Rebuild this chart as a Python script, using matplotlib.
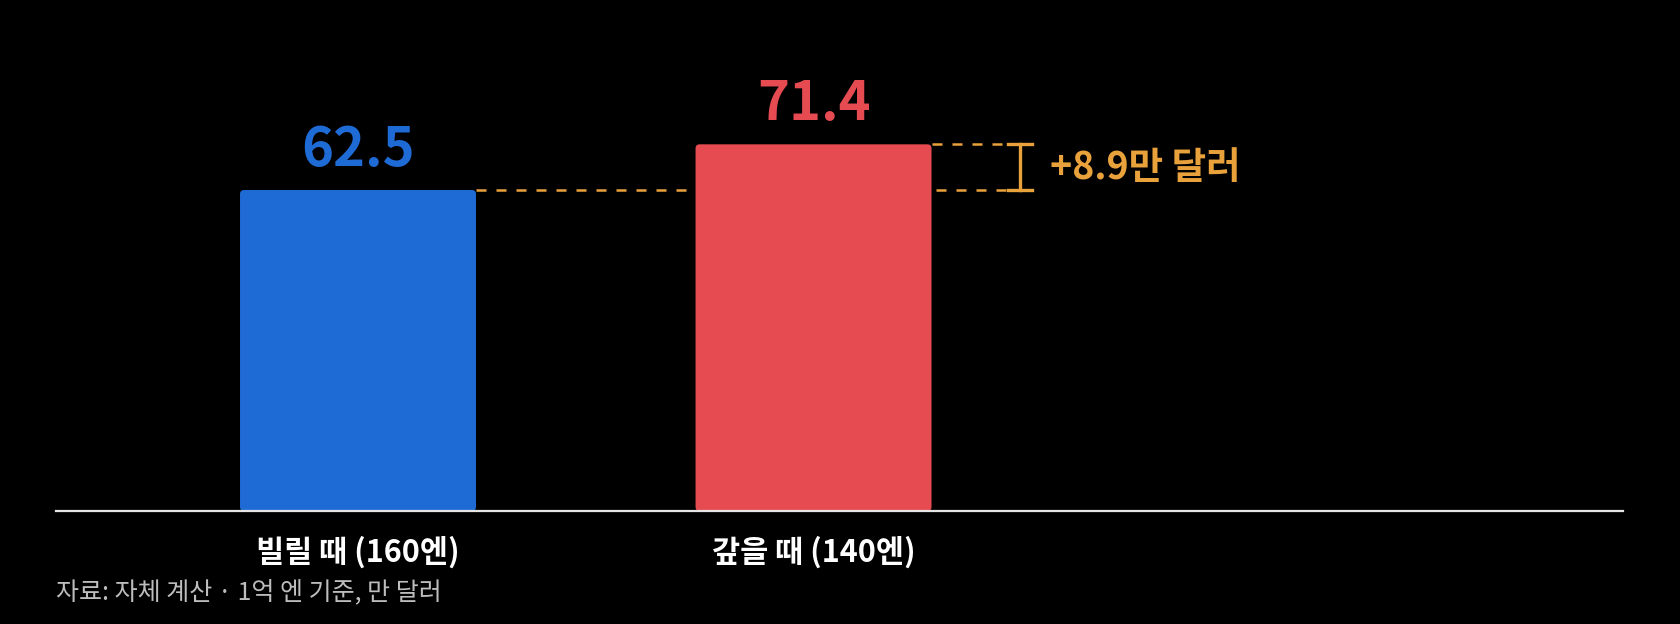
import matplotlib
matplotlib.use("Agg")
import matplotlib.pyplot as plt
from matplotlib.patches import FancyBboxPatch

plt.rcParams['font.family'] = ['Noto Sans CJK KR', 'DejaVu Sans']

# data
categories = ["빌릴 때 (160엔)", "갚을 때 (140엔)"]
values = [62.5, 71.4]
value_labels = ["62.5", "71.4"]
bar_colors = ["#1F6BD6", "#E54B50"]
diff_label = "+8.9만 달러"
source_note = "자료: 자체 계산 · 1억 엔 기준, 만 달러"

orange = "#E9A23B"

fig = plt.figure(figsize=(16.8, 6.24), dpi=100, facecolor="black")
# axes: baseline at 511 px from top, spanning x 56..1623 px
ax = fig.add_axes([56 / 1680, 113 / 624, (1623 - 56) / 1680, 511 / 624])
ax.set_facecolor("black")

x = [0, 1]
width = 0.518
bars = ax.bar(x, values, width=width, color=bar_colors, zorder=3)

ax.set_xlim(-0.663, 2.777)
ax.set_ylim(0, 99.5)

# rounded corners: swap each rectangle for a rounded box of same geometry
for b, c in zip(bars, bar_colors):
    b.set_visible(False)
    r = FancyBboxPatch((b.get_x(), b.get_y()), b.get_width(), b.get_height(),
                       boxstyle="round,pad=0,rounding_size=0.009",
                       mutation_aspect=88, facecolor=c, edgecolor="none",
                       zorder=3)
    ax.add_patch(r)

for s in ["top", "right", "left"]:
    ax.spines[s].set_visible(False)
ax.spines["bottom"].set_color("#E6E6E6")
ax.spines["bottom"].set_linewidth(1.6)
ax.spines["bottom"].set_zorder(5)
ax.set_yticks([])
ax.set_xticks([])

# value labels
for xi, v, lab, c in zip(x, values, value_labels, bar_colors):
    ax.annotate(lab, (xi, v), xytext=(0, 9), textcoords="offset points",
                ha="center", va="bottom", fontsize=39, fontweight="heavy",
                color=c)

# category labels
for xi, cat in zip(x, categories):
    ax.annotate(cat, (xi, 0), xytext=(0, -29.5), textcoords="offset points",
                ha="center", va="center", fontsize=22, fontweight="bold",
                color="white", annotation_clip=False)

# dashed reference lines
x_end = 1.425
ax.plot([x[0] + width / 2, x_end], [values[0], values[0]], color=orange,
        lw=1.8, dashes=(4, 4), zorder=2)
ax.plot([x[1] + width / 2, x_end], [values[1], values[1]], color=orange,
        lw=1.8, dashes=(4, 4), zorder=2)

# bracket
bx = 1.453
cap = 0.026
ax.plot([bx, bx], [values[0], values[1]], color=orange, lw=2.4, zorder=4)
ax.plot([bx - cap, bx + cap], [values[0]] * 2, color=orange, lw=2.4, zorder=4)
ax.plot([bx - cap, bx + cap], [values[1]] * 2, color=orange, lw=2.4, zorder=4)
ax.text(1.519, (values[0] + values[1]) / 2, diff_label, ha="left", va="center",
        fontsize=27, fontweight="heavy", color=orange)

fig.text(56 / 1680, (624 - 592) / 624, source_note, ha="left", va="center",
         fontsize=18, color="#BDBDBD")

fig.savefig("out.png", dpi=100, facecolor="black")
